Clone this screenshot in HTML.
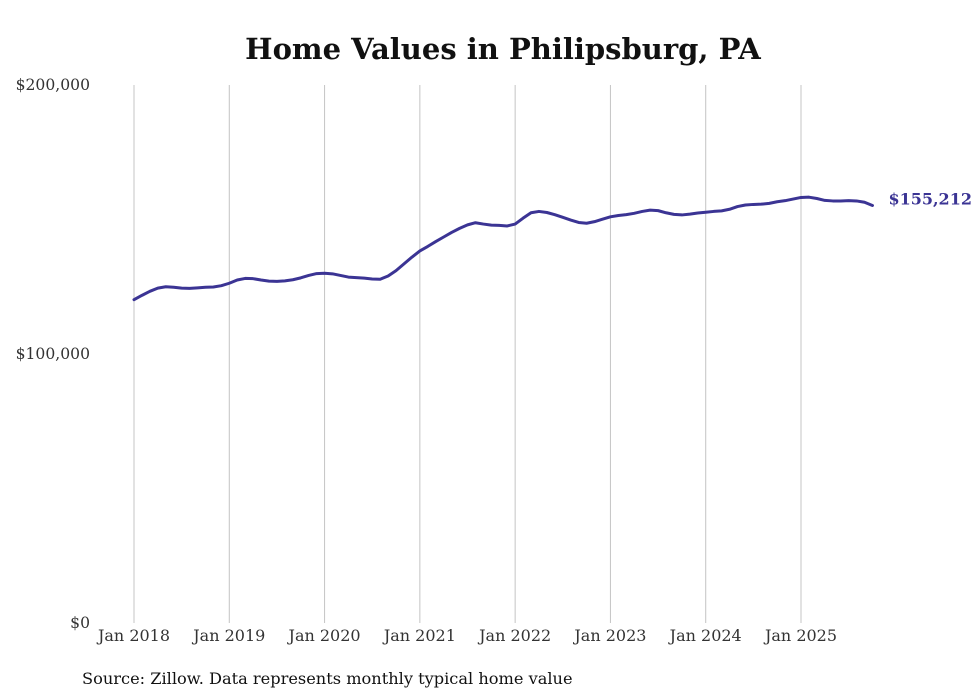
<!DOCTYPE html>
<html><head><meta charset="utf-8"><style>
html,body{margin:0;padding:0;background:#fff;width:980px;height:699px;overflow:hidden}
svg{display:block;font-family:"DejaVu Serif","Liberation Serif",serif}
</style></head><body>
<svg id="chart" width="980" height="699">
<text x="503" y="59" text-anchor="middle" font-size="29" font-weight="bold" fill="#111">Home Values in Philipsburg, PA</text>
<g id="grid"></g><g id="yaxis"></g><g id="xaxis"></g><g id="series"></g>
<text x="82" y="684" font-size="16.2" fill="#111">Source: Zillow. Data represents monthly typical home value</text>
</svg>
<script>
const xTickLabels=["Jan 2018","Jan 2019","Jan 2020","Jan 2021","Jan 2022","Jan 2023","Jan 2024","Jan 2025"];
const yTicks=[0,100000,200000];
const yTickLabels=["$0","$100,000","$200,000"];
const values=[
120.2,121.8,123.3,124.5,125.0,124.8,124.5,124.4,124.6,124.8,124.9,125.4,
126.3,127.5,128.1,128.0,127.5,127.1,127.0,127.2,127.6,128.3,129.2,129.9,
130.0,129.8,129.2,128.6,128.4,128.2,127.9,127.8,129.0,131.0,133.5,136.0,
138.3,140.0,141.8,143.5,145.2,146.7,148.0,148.8,148.3,147.9,147.8,147.6,
148.3,150.5,152.5,153.0,152.6,151.8,150.8,149.8,148.9,148.6,149.2,150.1,
151.0,151.5,151.8,152.3,153.0,153.5,153.3,152.5,151.9,151.7,152.0,152.4,
152.7,153.0,153.2,153.8,154.8,155.4,155.6,155.7,156.0,156.6,157.0,157.6,
158.2,158.3,157.8,157.1,156.9,156.9,157.0,156.9,156.4,155.212];
const lastLabel="$155,212";
const NS="http://www.w3.org/2000/svg";
const x0=134,pxPerMonth=(801-134)/84,yTop=85,yBot=623;
const xS=i=>x0+i*pxPerMonth;
const yS=v=>yBot-(v/200000)*(yBot-yTop);
function mk(tag,attrs,parent){const e=document.createElementNS(NS,tag);for(const k in attrs)e.setAttribute(k,attrs[k]);parent.appendChild(e);return e;}
const grid=document.getElementById('grid'),xa=document.getElementById('xaxis'),ya=document.getElementById('yaxis'),ser=document.getElementById('series');
xTickLabels.forEach((l,i)=>{
 const gx=xS(i*12);
 const ln=mk('line',{x1:gx,x2:gx,y1:yTop,y2:yBot,stroke:'#c4c4c4','stroke-width':1},grid);
 
 
 const t=mk('text',{x:gx,y:641,'text-anchor':'middle','font-size':16,fill:'#333'},xa);
 t.textContent=l;
 
 
});
yTicks.forEach((v,i)=>{
 const t=mk('text',{x:90,y:yS(v)+5,'text-anchor':'end','font-size':15.6,fill:'#333'},ya);
 t.textContent=yTickLabels[i];
 
 
});
const d=values.map((v,i)=>(i?'L':'M')+xS(i).toFixed(2)+','+yS(v*1000).toFixed(2)).join(' ');
const p=mk('path',{d:d,fill:'none',stroke:'#3b3494','stroke-width':3,'stroke-linejoin':'round','stroke-linecap':'round'},ser);


const li=values.length-1;
const lt=mk('text',{x:xS(li)+16,y:yS(values[li]*1000)-1,'font-size':16,'font-weight':'bold',fill:'#3b3494'},ser);
lt.textContent=lastLabel;


</script>
</body></html>
